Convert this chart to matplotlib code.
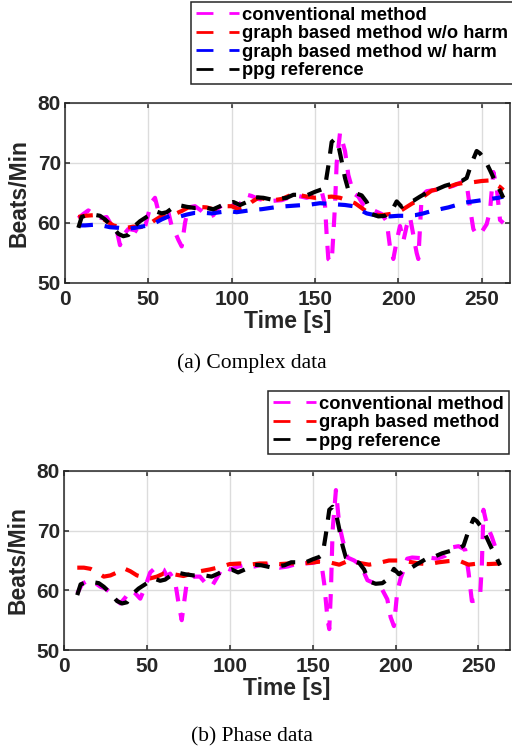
import matplotlib
matplotlib.use("Agg")
import matplotlib.pyplot as plt
from matplotlib.lines import Line2D

# ppg reference (same in both panels)
t_ppg = [8, 10, 13, 17, 21, 24, 28, 32, 35, 38, 41, 45, 50, 54, 58, 61, 64, 68,
         73, 78, 83, 89, 93, 97, 101, 105, 110, 114, 119, 124, 128, 133, 137,
         141, 145, 150, 154, 156, 158, 160, 162, 164, 166, 168, 170, 174, 178,
         181, 184, 188, 192, 196, 199, 202, 205, 209, 213, 218, 223, 228, 233,
         238, 241, 244, 247, 249, 252, 255, 258, 261, 263]
v_ppg = [59.2, 61.0, 61.3, 61.4, 61.2, 60.6, 59.5, 58.2, 57.8, 58.0, 59.3, 60.3,
         61.2, 62.0, 61.6, 61.8, 62.4, 63.0, 62.7, 62.5, 62.6, 62.3, 62.8, 63.3,
         63.5, 63.0, 63.6, 64.3, 64.2, 63.9, 64.0, 64.2, 64.7, 64.7, 64.6, 65.2,
         65.6, 66.0, 69.5, 73.5, 74.0, 73.0, 70.3, 67.5, 65.5, 65.0, 64.6, 63.5,
         61.5, 61.1, 61.2, 62.0, 63.6, 62.7, 63.4, 63.7, 64.4, 65.2, 65.6, 66.2,
         66.6, 67.0, 67.5, 70.0, 72.0, 71.6, 70.5, 68.8, 67.0, 65.4, 64.2]

# (a) complex data
t_conv_a = [8, 11, 14, 18, 22, 25, 28, 31, 33, 35, 38, 42, 45, 48, 50, 52, 54,
            56, 59, 62, 64, 66, 68, 70, 72, 74, 78, 82, 86, 89, 92, 96, 100,
            104, 108, 112, 116, 120, 125, 130, 135, 140, 145, 150, 154, 156,
            157, 158, 160, 161, 162, 163, 165, 168, 170, 173, 176, 179, 182,
            186, 190, 193, 195, 197, 199, 201, 203, 205, 207, 209, 211, 212,
            214, 217, 222, 228, 233, 238, 241, 243, 245, 247, 250, 253, 255,
            257, 259, 261, 263]
v_conv_a = [60.8, 61.5, 62.1, 61.3, 60.8, 61.0, 59.6, 58.8, 56.3, 58.0, 59.0,
            58.8, 58.3, 59.3, 61.5, 63.5, 64.2, 62.0, 61.6, 61.8, 59.5, 58.5,
            57.2, 56.1, 60.0, 62.6, 62.8, 62.0, 61.0, 61.3, 62.5, 63.3, 63.4,
            62.5, 64.8, 64.5, 64.0, 63.8, 63.7, 63.8, 64.3, 64.5, 64.2, 64.6,
            65.3, 63.0, 58.0, 54.0, 53.5, 58.0, 63.0, 70.0, 75.0, 72.0, 68.0,
            65.0, 64.4, 63.0, 62.5, 62.0, 61.5, 60.3, 56.0, 54.0, 57.0, 59.5,
            57.0, 59.5, 61.0, 58.0, 55.0, 54.0, 64.5, 65.3, 65.5, 65.8, 66.2,
            66.8, 66.5, 62.5, 59.0, 58.0, 58.5, 59.8, 62.0, 68.5, 66.0, 60.5,
            60.0]

t_wo_a = [8, 12, 17, 21, 25, 29, 33, 37, 41, 45, 49, 53, 57, 62, 66, 70, 74,
          80, 85, 90, 95, 100, 104, 108, 112, 116, 120, 125, 130, 135, 140,
          145, 150, 155, 160, 165, 170, 174, 178, 182, 186, 190, 195, 200, 204,
          208, 212, 216, 220, 225, 230, 235, 240, 245, 250, 255, 258, 261, 263]
v_wo_a = [61.0, 61.2, 61.3, 61.0, 60.3, 59.6, 59.3, 59.2, 59.4, 59.3, 59.5,
          60.3, 61.0, 61.3, 61.5, 62.0, 62.6, 62.7, 62.6, 62.2, 62.8, 62.8,
          62.3, 62.6, 63.5, 64.2, 64.0, 63.8, 64.0, 64.6, 64.7, 64.4, 64.2,
          64.3, 64.4, 64.2, 63.7, 63.3, 62.5, 61.7, 61.4, 61.3, 61.5, 61.8,
          62.5, 63.2, 63.8, 64.6, 65.4, 65.7, 66.0, 66.5, 66.7, 66.8, 67.0,
          67.1, 66.5, 66.0, 65.5]

t_w_a = [8, 12, 17, 22, 27, 32, 37, 42, 46, 50, 54, 58, 63, 68, 73, 78, 83,
         88, 93, 98, 103, 108, 113, 118, 123, 128, 133, 138, 143, 148, 153,
         158, 163, 168, 173, 177, 181, 186, 190, 195, 200, 205, 210, 215, 220,
         225, 230, 235, 240, 245, 250, 255, 260, 263]
v_w_a = [59.6, 59.6, 59.7, 59.6, 59.3, 59.2, 59.0, 59.2, 59.4, 59.6, 60.0,
         60.6, 61.2, 61.0, 61.4, 61.7, 61.7, 61.6, 61.8, 62.0, 61.8, 62.0,
         62.2, 62.3, 62.5, 62.7, 62.8, 62.9, 63.0, 63.1, 63.3, 63.2, 63.1,
         63.0, 62.8, 62.2, 61.6, 61.3, 61.2, 61.1, 61.2, 61.2, 61.3, 61.6,
         62.0, 62.3, 62.6, 63.0, 63.4, 63.6, 63.8, 64.0, 64.2, 64.4]

# (b) phase data
t_conv_b = [8, 11, 15, 19, 22, 25, 28, 32, 34, 37, 40, 43, 46, 49, 52, 56, 60,
            62, 64, 67, 69, 71, 74, 78, 82, 86, 89, 92, 96, 100, 105, 110, 115,
            120, 125, 130, 135, 140, 145, 150, 155, 157, 159, 160, 161, 162,
            164, 166, 168, 171, 175, 179, 183, 187, 191, 195, 197, 199, 201,
            203, 205, 207, 210, 215, 220, 225, 230, 234, 238, 242, 244, 246,
            249, 251, 252, 253, 255, 258, 261]
v_conv_b = [59.5, 61.1, 61.7, 61.2, 60.6, 60.3, 59.6, 58.3, 57.8, 58.8, 60.0,
            59.5, 58.6, 60.6, 63.0, 64.0, 63.5, 62.4, 62.8, 61.5, 58.0, 55.0,
            61.2, 62.3, 62.3, 61.0, 60.6, 62.0, 64.0, 63.5, 64.0, 64.3, 64.0,
            64.4, 64.2, 63.8, 64.0, 64.4, 64.5, 64.6, 65.0, 61.0, 55.0, 53.5,
            60.0, 70.0, 76.8, 71.0, 68.5, 65.5, 65.0, 64.2, 61.7, 61.2, 60.6,
            58.5, 55.5, 54.0, 59.8, 62.0, 63.5, 65.3, 65.5, 65.4, 65.5, 65.3,
            65.8, 67.2, 67.4, 66.8, 63.0, 58.2, 58.3, 59.3, 64.0, 73.5, 71.0,
            69.0, 66.5]

t_graph_b = [8, 12, 16, 20, 24, 28, 32, 36, 40, 44, 48, 52, 56, 60, 64, 68,
             72, 76, 82, 88, 94, 100, 106, 112, 118, 124, 130, 136, 142, 148,
             154, 160, 166, 172, 178, 184, 190, 196, 202, 208, 214, 220, 226,
             232, 238, 244, 250, 256, 263]
v_graph_b = [63.8, 63.8, 63.6, 63.0, 62.3, 62.5, 63.0, 63.7, 63.2, 62.5, 62.2,
             62.0, 62.3, 62.8, 62.8, 62.6, 62.4, 62.7, 63.2, 63.5, 63.9, 64.4,
             64.5, 64.3, 64.5, 64.5, 64.4, 64.5, 64.5, 64.6, 64.8, 64.7, 64.3,
             65.0, 64.6, 64.3, 64.6, 65.0, 65.0, 64.8, 64.5, 64.4, 64.7, 64.9,
             65.0, 64.3, 64.5, 64.4, 64.5]

labels_a = ["conventional method", "graph based method w/o harm",
            "graph based method w/ harm", "ppg reference"]
labels_b = ["conventional method", "graph based method", "ppg reference"]

MAGENTA, RED, BLUE, BLACK = "#ff00ff", "#ff0000", "#0000ff", "#000000"
DARK = "#262626"

plt.rcParams["font.family"] = ["Liberation Sans", "DejaVu Sans"]
plt.rcParams["font.weight"] = "bold"
plt.rcParams["lines.scale_dashes"] = False

LW = 3.0
DASH = (10.5, 8.5)


def style_axes(ax, xmax):
    """MATLAB like axes look"""
    ax.set_xlim(0, xmax)
    ax.set_ylim(50, 80)
    ax.set_xticks([0, 50, 100, 150, 200, 250])
    ax.set_yticks([50, 60, 70, 80])
    ax.grid(True, color="#dcdcdc", linewidth=1.0)
    ax.set_axisbelow(True)
    ax.tick_params(direction="in", top=True, right=True, length=3.5,
                   width=1.1, color=DARK, labelsize=15, labelcolor=DARK)
    ax.tick_params(axis="x", pad=5)
    ax.tick_params(axis="y", pad=3)
    for s in ax.spines.values():
        s.set_color(DARK)
        s.set_linewidth(1.1)
    ax.set_xlabel("Time [s]", fontsize=16.5, fontweight="bold", color=DARK,
                  labelpad=1)
    ax.set_ylabel("Beats/Min", fontsize=16.5, fontweight="bold", color=DARK,
                  labelpad=5)


def proxies(colors):
    return [Line2D([0], [0], color=c, lw=2.0, dashes=(12.2, 11.5))
            for c in colors]


fig = plt.figure(figsize=(5.12, 7.5), dpi=100)

ax1 = fig.add_axes([65 / 512, 1 - 283 / 750, 445 / 512, 180 / 750])
ax1.plot(t_conv_a, v_conv_a, color=MAGENTA, lw=LW, dashes=DASH)
ax1.plot(t_wo_a, v_wo_a, color=RED, lw=LW, dashes=DASH)
ax1.plot(t_w_a, v_w_a, color=BLUE, lw=LW, dashes=DASH)
ax1.plot(t_ppg, v_ppg, color=BLACK, lw=LW, dashes=DASH)
style_axes(ax1, 267)
leg1 = fig.legend(proxies([MAGENTA, RED, BLUE, BLACK]), labels_a,
                  loc="upper left", bbox_to_anchor=(191 / 512, 1 - 2 / 750),
                  fontsize=13.2, handlelength=2.35, handletextpad=0.2,
                  borderpad=0.25, labelspacing=0.08, borderaxespad=0,
                  fancybox=False, framealpha=1, edgecolor=DARK)
leg1.get_frame().set_linewidth(1.1)

ax2 = fig.add_axes([64 / 512, 1 - 650 / 750, 446 / 512, 179 / 750])
ax2.plot(t_conv_b, v_conv_b, color=MAGENTA, lw=LW, dashes=DASH)
ax2.plot(t_graph_b, v_graph_b, color=RED, lw=LW, dashes=DASH)
ax2.plot(t_ppg, v_ppg, color=BLACK, lw=LW, dashes=DASH)
style_axes(ax2, 269)
leg2 = fig.legend(proxies([MAGENTA, RED, BLACK]), labels_b,
                  loc="upper left", bbox_to_anchor=(268 / 512, 1 - 391 / 750),
                  fontsize=13.2, handlelength=2.35, handletextpad=0.2,
                  borderpad=0.25, labelspacing=0.08, borderaxespad=0,
                  fancybox=False, framealpha=1, edgecolor=DARK)
leg2.get_frame().set_linewidth(1.1)

fig.text(252 / 512, 1 - 363 / 750, "(a) Complex data", ha="center",
         va="center", fontsize=15.5, fontweight="normal",
         family=["Liberation Serif", "DejaVu Serif"])
fig.text(252 / 512, 1 - 737 / 750, "(b) Phase data", ha="center",
         va="center", fontsize=15.5, fontweight="normal",
         family=["Liberation Serif", "DejaVu Serif"])

fig.savefig("out.png", dpi=100)
